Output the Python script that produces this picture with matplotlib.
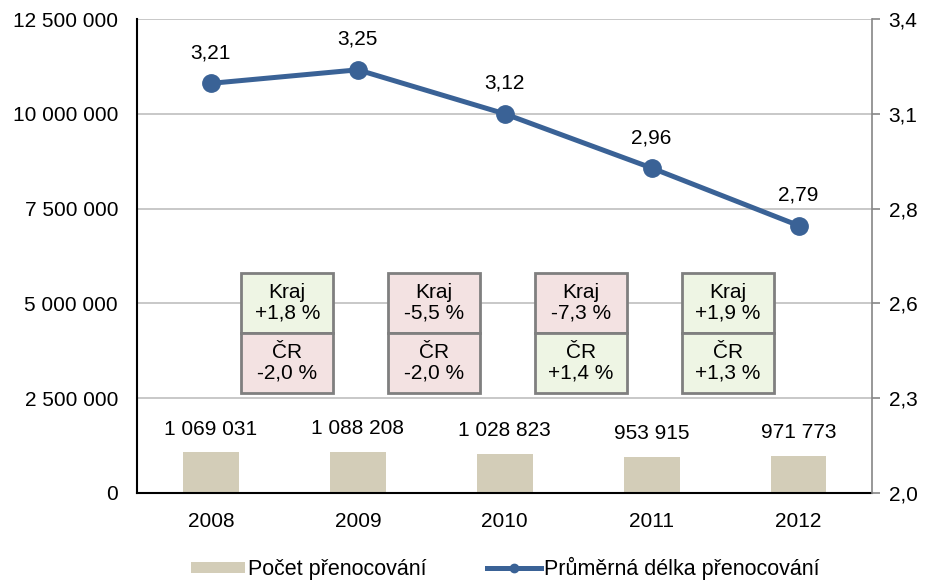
import matplotlib
matplotlib.use("Agg")
import matplotlib.pyplot as plt
import matplotlib.transforms as mtransforms
from matplotlib.patches import Rectangle
from matplotlib.lines import Line2D
from matplotlib.ticker import FixedLocator, FuncFormatter

plt.rcParams['font.family'] = ['Liberation Sans', 'DejaVu Sans']

years = ['2008', '2009', '2010', '2011', '2012']
overnights = [1069031, 1088208, 1028823, 953915, 971773]
avg_length = [3.21, 3.25, 3.12, 2.96, 2.79]
kraj_change = [1.8, -5.5, -7.3, 1.9]
cr_change = [-2.0, -2.0, 1.4, 1.3]
left_ticks = [0, 2500000, 5000000, 7500000, 10000000, 12500000]
right_ticks = [2.0, 2.28, 2.56, 2.84, 3.12, 3.4]

bar_color = '#D3CDB8'
line_color = '#3A6296'
pos_fill = '#EEF5E4'
neg_fill = '#F3E2E2'
FS = 15

fig = plt.figure(figsize=(9.25, 5.8), dpi=100)
ax = fig.add_axes([0.1486, 0.15, 0.9427 - 0.1486, 0.9672 - 0.15])
ax2 = ax.twinx()

x = list(range(len(years)))
ax.bar(x, overnights, width=0.38, color=bar_color, zorder=2)
ax.set_xlim(-0.5, len(years) - 0.5)
ax.set_ylim(left_ticks[0], left_ticks[-1])
ax.yaxis.set_major_locator(FixedLocator(left_ticks))
ax.yaxis.set_major_formatter(FuncFormatter(lambda v, p: f"{int(v):,}".replace(',', ' ')))
ax.grid(axis='y', color='#BFBFBF', linewidth=1.2, zorder=0)
ax.set_axisbelow(True)
ax.set_xticks(x)
ax.set_xticklabels(years)
ax.tick_params(axis='x', length=0, labelsize=FS, pad=14)
ax.tick_params(axis='y', length=0, labelsize=FS, pad=14)

for xi, v in zip(x, overnights):
    ax.annotate(f"{v:,}".replace(',', ' '), (xi, v), xytext=(0, 10), textcoords='offset points',
                ha='center', va='bottom', fontsize=FS)

ax.spines['top'].set_visible(False)
ax2.spines['top'].set_visible(False)
ax.spines['left'].set_color('black')
ax.spines['left'].set_linewidth(1.5)
ax.spines['bottom'].set_color('black')
ax.spines['bottom'].set_linewidth(1.5)
ax.spines['right'].set_visible(False)
ax2.spines['left'].set_visible(False)
ax2.spines['bottom'].set_visible(False)
ax2.spines['right'].set_color('#868686')
ax2.spines['right'].set_linewidth(1.2)

ax2.plot(x, avg_length, color=line_color, linewidth=3.6, marker='o', markersize=12.5, zorder=5)
ax2.set_ylim(right_ticks[0], right_ticks[-1])
ax2.yaxis.set_major_locator(FixedLocator(right_ticks))
ax2.yaxis.set_major_formatter(FuncFormatter(lambda v, p: f"{v:.1f}".replace('.', ',')))
ax2.tick_params(axis='y', length=6, width=1.2, color='#868686', labelsize=FS, pad=6)
for xi, v in zip(x, avg_length):
    ax2.annotate(f"{v:.2f}".replace('.', ','), (xi, v), xytext=(0, 15), textcoords='offset points',
                 ha='center', va='bottom', fontsize=FS)

# change boxes between years
trans = mtransforms.blended_transform_factory(ax.transData, ax.transAxes)
bw = 92 / ((872 - 137.5) / 5)
top_f, mid_f, bot_f = (493 - 273) / 474, (493 - 333) / 474, (493 - 393) / 474
for i, (k, c) in enumerate(zip(kraj_change, cr_change)):
    cx = i + 0.52
    for (label, val, y0, y1) in [('Kraj', k, mid_f, top_f), ('ČR', c, bot_f, mid_f)]:
        r = Rectangle((cx - bw / 2, y0), bw, y1 - y0, transform=trans,
                      facecolor=pos_fill if val > 0 else neg_fill,
                      edgecolor='#7F7F7F', linewidth=2, zorder=6, clip_on=False)
        ax.add_patch(r)
        txt = f"{val:+.1f} %".replace('.', ',')
        ax.text(cx, (y0 + y1) / 2, f"{label}\n{txt}", transform=trans, ha='center', va='center',
                fontsize=FS, zorder=7, linespacing=1.1)

handles = [Rectangle((0, 0), 1, 1, facecolor=bar_color, edgecolor='none'),
           Line2D([], [], color=line_color, linewidth=3.6, marker='o', markersize=6)]
fig.legend(handles, ['Počet přenocování', 'Průměrná délka přenocování'], loc='center',
           bbox_to_anchor=(0.546, 0.02), ncol=2, frameon=False, fontsize=15.5,
           handlelength=2.5, handleheight=0.4, handletextpad=0.15, columnspacing=2.8,
           borderpad=0)

fig.savefig('out.png', dpi=100)
